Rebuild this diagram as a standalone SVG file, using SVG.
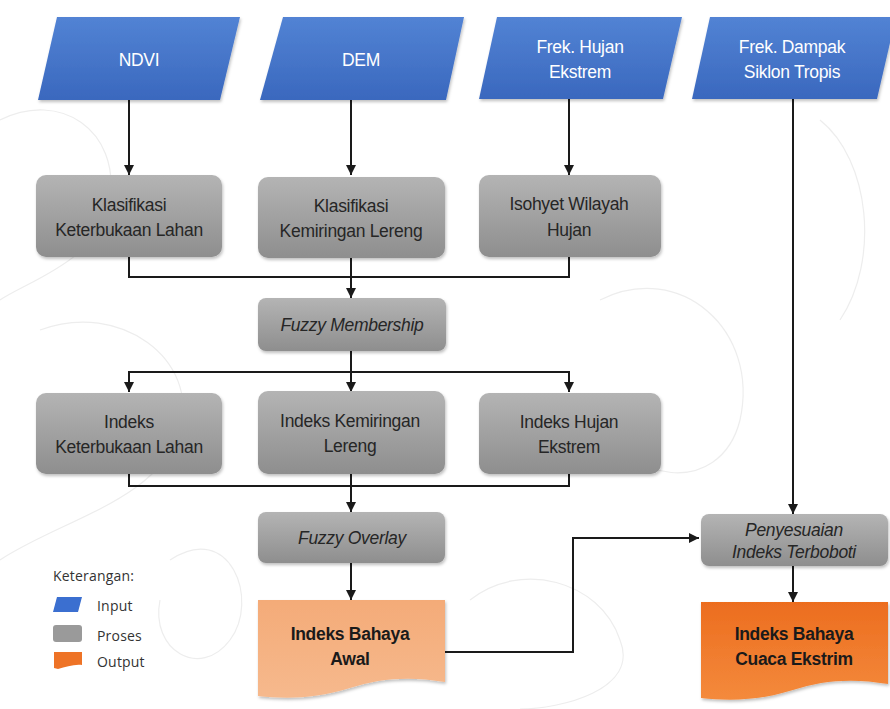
<svg xmlns="http://www.w3.org/2000/svg" width="890" height="709" viewBox="0 0 890 709">
<defs>
<linearGradient id="gBlue" x1="0" y1="0" x2="0" y2="1"><stop offset="0" stop-color="#5283d4"/><stop offset="1" stop-color="#3a68be"/></linearGradient>
<linearGradient id="gGray" x1="0" y1="0" x2="0" y2="1"><stop offset="0" stop-color="#b4b4b4"/><stop offset="1" stop-color="#8e8e8e"/></linearGradient>
<linearGradient id="gPeach" x1="0" y1="0" x2="0" y2="1"><stop offset="0" stop-color="#f4ab78"/><stop offset="1" stop-color="#f6b98d"/></linearGradient>
<linearGradient id="gOrange" x1="0" y1="0" x2="0" y2="1"><stop offset="0" stop-color="#ec6d1f"/><stop offset="1" stop-color="#f48a3c"/></linearGradient>
<marker id="arr" viewBox="0 0 10 10" refX="10" refY="5" markerWidth="5" markerHeight="5" orient="auto"><path d="M0,0 L10,5 L0,10 z" fill="#1a1a1a"/></marker>
<filter id="sh" x="-10%" y="-10%" width="125%" height="130%"><feDropShadow dx="1" dy="2" stdDeviation="1.5" flood-color="#000" flood-opacity="0.25"/></filter>
</defs>
<style>
.in{fill:url(#gBlue);filter:url(#sh)}
.pr{fill:url(#gGray);filter:url(#sh)}
.tw{font-family:"Liberation Sans",Arial,sans-serif;font-size:17.5px;fill:#ffffff;text-anchor:middle;letter-spacing:-0.3px}
.td{font-family:"Liberation Sans",Arial,sans-serif;font-size:17.5px;fill:#262626;text-anchor:middle;letter-spacing:-0.3px}
.ti{font-style:italic}
.tb{font-family:"Liberation Sans",Arial,sans-serif;font-size:17.5px;font-weight:bold;fill:#1a1a1a;text-anchor:middle;letter-spacing:-0.3px}
.ln{fill:none;stroke:#1a1a1a;stroke-width:2}
.lg{font-family:"Open Sans","DejaVu Sans",sans-serif;font-size:14px;fill:#333333;letter-spacing:0.2px}
.bg{fill:none;stroke:#ededed;stroke-width:1.2}
</style>
<rect width="890" height="709" fill="#ffffff"/>
<g id="background">
<path class="bg" d="M0,120 C60,90 120,130 110,200 C100,260 30,280 0,300"/>
<path class="bg" d="M40,330 C120,300 200,360 180,430 C160,500 60,520 0,560"/>
<path class="bg" d="M600,300 C680,260 760,330 740,420 C720,500 620,480 610,420"/>
<path class="bg" d="M820,120 C870,160 880,260 840,320"/>
<path class="bg" d="M470,600 C520,560 600,580 620,640 C640,690 560,709 520,709"/>
<path class="bg" d="M170,560 C230,520 260,600 230,640 C200,680 150,650 160,600"/>
</g>
<g id="connectors">
<line class="ln" x1="129" y1="100" x2="129" y2="175" marker-end="url(#arr)"/>
<line class="ln" x1="351" y1="100" x2="351" y2="175" marker-end="url(#arr)"/>
<line class="ln" x1="569" y1="99" x2="569" y2="175" marker-end="url(#arr)"/>
<polyline class="ln" points="129,257 129,277 569,277 569,257"/>
<line class="ln" x1="351" y1="257" x2="351" y2="298" marker-end="url(#arr)"/>
<line class="ln" x1="351" y1="351" x2="351" y2="392" marker-end="url(#arr)"/>
<polyline class="ln" points="129,392 129,372 569,372 569,392" marker-end="url(#arr)"/>
<line class="ln" x1="129" y1="372" x2="129" y2="392" marker-end="url(#arr)"/>
<polyline class="ln" points="129,474 129,486 569,486 569,474"/>
<line class="ln" x1="351" y1="474" x2="351" y2="512" marker-end="url(#arr)"/>
<line class="ln" x1="351" y1="563" x2="351" y2="600" marker-end="url(#arr)"/>
<polyline class="ln" points="445,652 573,652 573,538 699,538" marker-end="url(#arr)"/>
<line class="ln" x1="793" y1="99" x2="793" y2="514" marker-end="url(#arr)"/>
<line class="ln" x1="793" y1="566" x2="793" y2="602" marker-end="url(#arr)"/>
</g>
<g id="ndvi"><polygon class="in" points="57,17 240,17 220,100 38,100"/><text class="tw" x="139" y="66">NDVI</text></g>
<g id="dem"><polygon class="in" points="283,17 464,17 446,100 260,100"/><text class="tw" x="361" y="66">DEM</text></g>
<g id="frek-hujan"><polygon class="in" points="497,17 682,17 663,99 479,99"/><text class="tw" x="580" y="53">Frek. Hujan</text><text class="tw" x="580" y="78">Ekstrem</text></g>
<g id="frek-dampak"><polygon class="in" points="710,17 896,17 877,99 692,99"/><text class="tw" x="792" y="53">Frek. Dampak</text><text class="tw" x="792" y="78">Siklon Tropis</text></g>
<g id="klas-lahan"><rect class="pr" x="36" y="175" width="186" height="82" rx="10"/><text class="td" x="129" y="211">Klasifikasi</text><text class="td" x="129" y="236">Keterbukaan Lahan</text></g>
<g id="klas-lereng"><rect class="pr" x="258" y="177" width="187" height="81" rx="10"/><text class="td" x="351" y="212">Klasifikasi</text><text class="td" x="351" y="237">Kemiringan Lereng</text></g>
<g id="isohyet"><rect class="pr" x="479" y="175" width="182" height="82" rx="10"/><text class="td" x="569" y="210">Isohyet Wilayah</text><text class="td" x="569" y="236">Hujan</text></g>
<g id="fuzzy-membership"><rect class="pr" x="258" y="298" width="188" height="53" rx="8"/><text class="td ti" x="352" y="331">Fuzzy Membership</text></g>
<g id="indeks-lahan"><rect class="pr" x="36" y="393" width="186" height="81" rx="10"/><text class="td" x="129" y="428">Indeks</text><text class="td" x="129" y="453">Keterbukaan Lahan</text></g>
<g id="indeks-lereng"><rect class="pr" x="258" y="391" width="187" height="83" rx="10"/><text class="td" x="350" y="427">Indeks Kemiringan</text><text class="td" x="350" y="452">Lereng</text></g>
<g id="indeks-hujan"><rect class="pr" x="479" y="393" width="182" height="81" rx="10"/><text class="td" x="569" y="428">Indeks Hujan</text><text class="td" x="569" y="453">Ekstrem</text></g>
<g id="fuzzy-overlay"><rect class="pr" x="258" y="512" width="187" height="51" rx="8"/><text class="td ti" x="352" y="544">Fuzzy Overlay</text></g>
<g id="penyesuaian"><rect class="pr" x="701" y="514" width="187" height="52" rx="8"/><text class="td ti" x="794" y="536">Penyesuaian</text><text class="td ti" x="794" y="558">Indeks Terboboti</text></g>
<g id="bahaya-awal"><path d="M258,600 L445,600 L445,682 C410,676 380,678 350,688 C315,699 285,699 258,696 Z" fill="url(#gPeach)" filter="url(#sh)"/><text class="tb" x="350" y="640">Indeks Bahaya</text><text class="tb" x="350" y="665">Awal</text></g>
<g id="bahaya-cuaca"><path d="M701,602 L888,602 L888,684 C853,678 823,680 793,690 C758,701 728,701 701,698 Z" fill="url(#gOrange)" filter="url(#sh)"/><text class="tb" x="794" y="640">Indeks Bahaya</text><text class="tb" x="794" y="665">Cuaca Ekstrim</text></g>
<g id="legend">
<text class="lg" x="53" y="581">Keterangan:</text>
<polygon points="57,597 82,597 78,612 53,612" fill="#3b6fd0"/><text class="lg" x="97" y="611">Input</text>
<rect x="53" y="625" width="29" height="17" rx="3" fill="#9a9a9a"/><text class="lg" x="97" y="641">Proses</text>
<path d="M54,652 L82,652 L82,665 C74,664 66,667 58,669 L54,668 Z" fill="#ee7326"/><text class="lg" x="97" y="667">Output</text>
</g>
</svg>
